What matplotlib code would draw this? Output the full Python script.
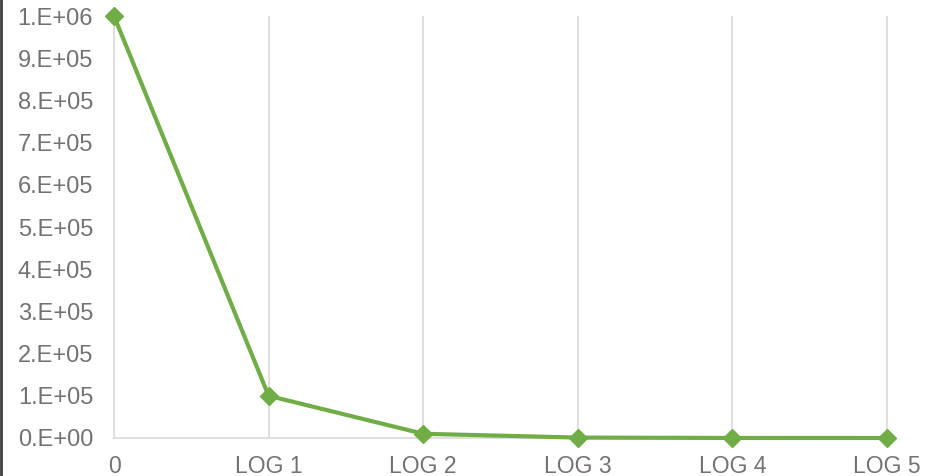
import matplotlib.pyplot as plt
from matplotlib.lines import Line2D

# data
categories = ["0", "LOG 1", "LOG 2", "LOG 3", "LOG 4", "LOG 5"]
counts = [1e6, 1e5, 1e4, 1e3, 1e2, 1e1]
y_ticks = [i * 1e5 for i in range(11)]
y_labels = [f"{i}.E+05" if 0 < i < 10 else "" for i in range(11)]
y_labels[0] = "0.E+00"
y_labels[10] = "1.E+06"

plt.rcParams["font.family"] = ["Liberation Sans", "DejaVu Sans"]
text_color = "#767171"
grid_color = "#D9D9D9"

fig = plt.figure(figsize=(9.38, 4.76), dpi=100)
ax = fig.add_axes([114 / 938, 1 - 438 / 476, (887 - 114) / 938, (438 - 16) / 476])

x = list(range(len(categories)))
ax.plot(x, counts, color="#70AD47", lw=3, marker="D", markersize=9,
        clip_on=False, zorder=3)

ax.set_xlim(0, len(categories) - 1)
ax.set_ylim(0, 1e6)
ax.set_xticks(x)
ax.set_xticklabels(categories, fontsize=16.5, color=text_color)
ax.set_yticks(y_ticks)
ax.set_yticklabels(y_labels, fontsize=17, color=text_color)
ax.tick_params(length=0)
ax.tick_params(axis="y", pad=15)
ax.tick_params(axis="x", pad=12)

# vertical gridlines drawn unclipped so the last one at the edge shows
ax.vlines(x, 0, 1e6, color=grid_color, lw=1.2, clip_on=False, zorder=1)
for s in ["top", "right", "left"]:
    ax.spines[s].set_visible(False)
ax.spines["bottom"].set_color(grid_color)
ax.spines["bottom"].set_linewidth(1.2)

fig.add_artist(Line2D([0.0015, 0.0015], [0, 1], color="#404040", lw=2,
                      transform=fig.transFigure))

fig.savefig("out.png", dpi=100)
